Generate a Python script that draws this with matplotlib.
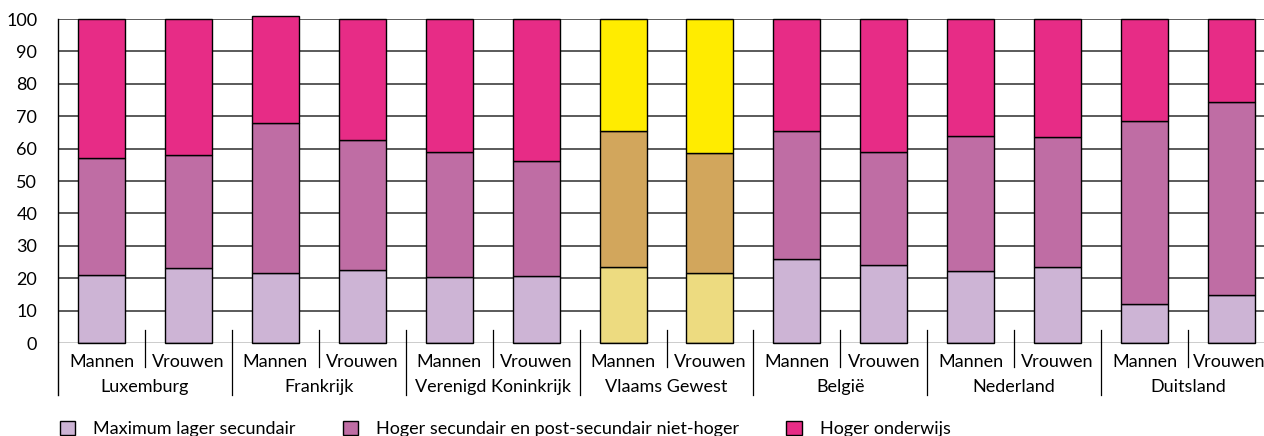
import matplotlib
matplotlib.use("Agg")
import matplotlib.pyplot as plt
from matplotlib.patches import Patch
import numpy as np

plt.rcParams["font.family"] = ["Lato", "DejaVu Sans"]

countries = ["Luxemburg", "Frankrijk", "Verenigd Koninkrijk", "Vlaams Gewest",
             "België", "Nederland", "Duitsland"]
genders = ["Mannen", "Vrouwen"]
levels = ["Maximum lager secundair",
          "Hoger secundair en post-secundair niet-hoger",
          "Hoger onderwijs"]

# per bar: Mannen, Vrouwen for each country in order
lager = [20.9, 23.0, 21.5, 22.6, 20.4, 20.6, 23.5, 21.7, 25.9, 24.1, 22.2, 23.6, 12.0, 14.7]
hoger_sec = [36.2, 34.9, 46.5, 39.9, 38.6, 35.6, 42.0, 36.8, 39.6, 34.9, 41.6, 40.0, 56.5, 59.6]
hoger_ond = [42.9, 42.1, 32.8, 37.5, 41.0, 43.8, 34.5, 41.5, 34.5, 41.0, 36.2, 36.4, 31.5, 25.7]

colors_default = ["#cdb4d5", "#bf6da4", "#e72c86"]
colors_flanders = ["#eddb80", "#d2a65c", "#ffec00"]
highlight = "Vlaams Gewest"
fs = 13

fig = plt.figure(figsize=(12.64, 4.36), dpi=100)
ax = fig.add_axes([58 / 1264, 1 - 343 / 436, 1217 / 1264, 324 / 436])

n = len(countries) * len(genders)
x = np.arange(n)
bottoms = np.zeros(n)
series = [lager, hoger_sec, hoger_ond]
for k, vals in enumerate(series):
    cols = []
    for i in range(n):
        c = countries[i // 2]
        cols.append(colors_flanders[k] if c == highlight else colors_default[k])
    ax.bar(x, vals, width=0.54, bottom=bottoms, color=cols,
           edgecolor="black", linewidth=1.0, zorder=3, clip_on=False)
    bottoms += np.array(vals)

ax.set_xlim(-0.5, n - 0.5)
ax.set_ylim(0, 100)
ax.set_yticks(np.arange(0, 101, 10))
ax.tick_params(axis="y", length=0, pad=15, labelsize=fs)
ax.set_xticks([])
for y in np.arange(10, 101, 10):
    ax.axhline(y, color="#4d4d4d", linewidth=1.3, zorder=1)
ax.axhline(0, color="black", linewidth=1.0, zorder=4)

for side in ["top", "right", "bottom", "left"]:
    ax.spines[side].set_visible(False)

trans = ax.get_xaxis_transform()
ax.plot([-0.5, -0.5], [1.0, -0.160], color="black", linewidth=1.0,
        transform=trans, clip_on=False, zorder=5)
for i in range(n):
    xt = i - 0.03 if i == n - 1 else i
    ax.text(xt, -0.059, genders[i % 2], transform=trans, ha="center",
            va="center", fontsize=fs)
    xb = i + 0.5
    low = -0.074 if i % 2 == 0 else -0.160
    ax.plot([xb, xb], [0.040, low], color="black", linewidth=0.9,
            transform=trans, clip_on=False)
for j, c in enumerate(countries):
    ax.text(2 * j + 0.5, -0.136, c, transform=trans, ha="center",
            va="center", fontsize=fs)

handles = [Patch(facecolor=colors_default[k], edgecolor="black", linewidth=1.0)
           for k in range(3)]
fig.legend(handles, levels, loc="center left", bbox_to_anchor=(60 / 1264, 7 / 436),
           ncol=3, frameon=False, fontsize=fs, handlelength=0.85,
           handleheight=0.85, handletextpad=1.0, columnspacing=2.6,
           borderaxespad=0, borderpad=0)

fig.savefig("out.png", dpi=100)
